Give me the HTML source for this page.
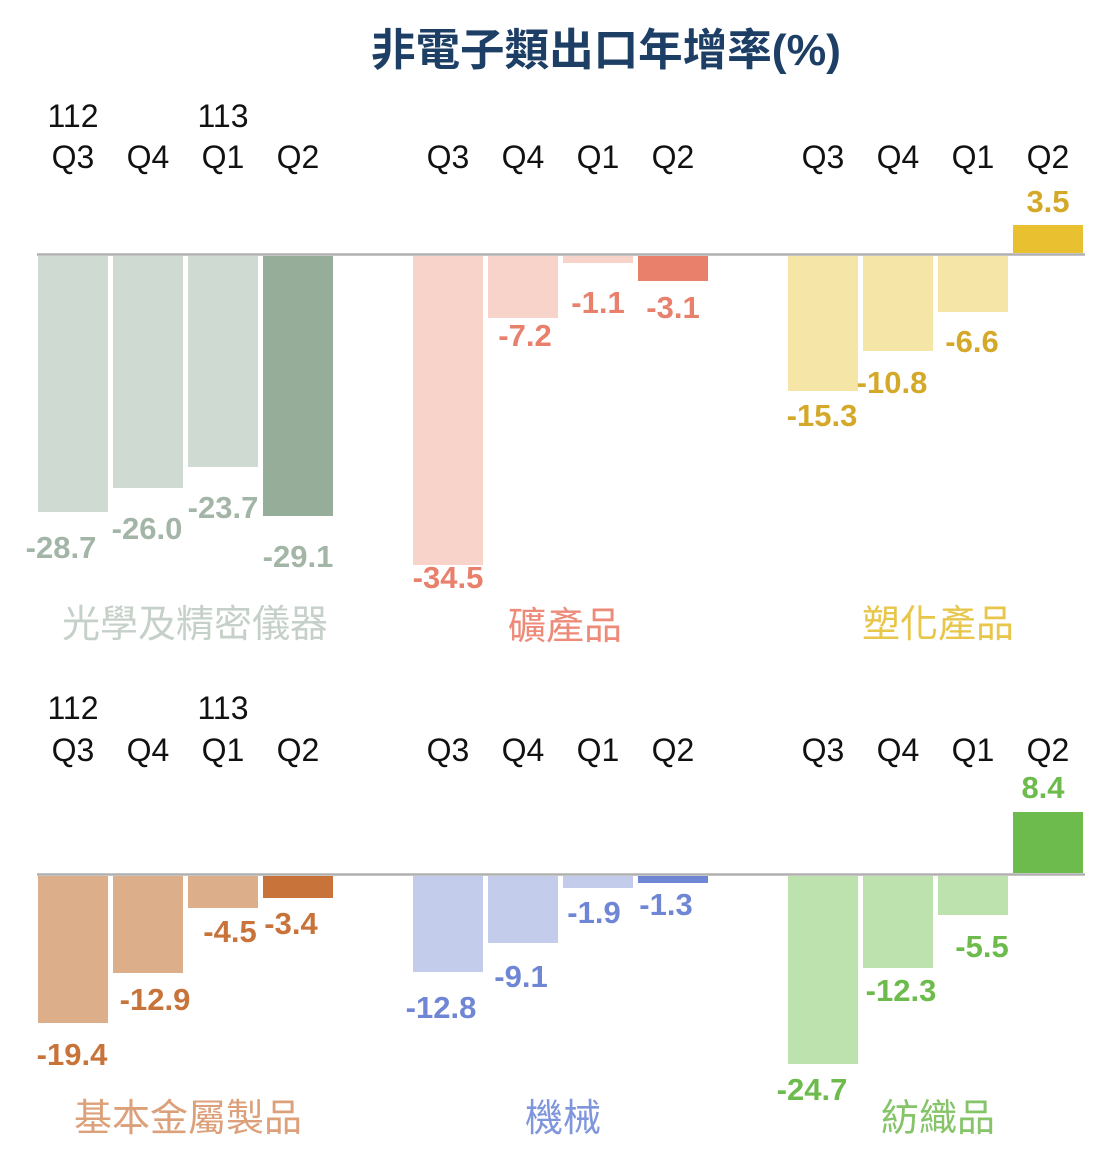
<!DOCTYPE html>
<html><head><meta charset="utf-8"><style>
html,body{margin:0;padding:0;background:#fff;}
svg text{font-family:"Liberation Sans","Noto Sans CJK TC",sans-serif;}
</style></head><body>
<svg width="1105" height="1149" viewBox="0 0 1105 1149" xmlns="http://www.w3.org/2000/svg">
<text x="606" y="65" text-anchor="middle" font-size="44" font-weight="bold" fill="#1d3f66" textLength="470" lengthAdjust="spacingAndGlyphs">非電子類出口年增率(%)</text>

<g font-size="32" fill="#111" text-anchor="middle">
<text x="73" y="127">112</text><text x="223" y="127">113</text>
<text x="73" y="168">Q3</text><text x="148" y="168">Q4</text><text x="223" y="168">Q1</text><text x="298" y="168">Q2</text>
<text x="448" y="168">Q3</text><text x="523" y="168">Q4</text><text x="598" y="168">Q1</text><text x="673" y="168">Q2</text>
<text x="823" y="168">Q3</text><text x="898" y="168">Q4</text><text x="973" y="168">Q1</text><text x="1048" y="168">Q2</text>
<text x="73" y="719">112</text><text x="223" y="719">113</text>
<text x="73" y="761">Q3</text><text x="148" y="761">Q4</text><text x="223" y="761">Q1</text><text x="298" y="761">Q2</text>
<text x="448" y="761">Q3</text><text x="523" y="761">Q4</text><text x="598" y="761">Q1</text><text x="673" y="761">Q2</text>
<text x="823" y="761">Q3</text><text x="898" y="761">Q4</text><text x="973" y="761">Q1</text><text x="1048" y="761">Q2</text>
</g>

<rect x="38" y="256" width="70" height="256" fill="#cfdad2"/>
<rect x="113" y="256" width="70" height="232" fill="#cfdad2"/>
<rect x="188" y="256" width="70" height="211" fill="#cfdad2"/>
<rect x="263" y="256" width="70" height="260" fill="#96ad9a"/>
<rect x="413" y="256" width="70" height="309" fill="#f7d3ca"/>
<rect x="488" y="256" width="70" height="62" fill="#f7d3ca"/>
<rect x="563" y="256" width="70" height="7" fill="#f7d3ca"/>
<rect x="638" y="256" width="70" height="25" fill="#e8806b"/>
<rect x="788" y="256" width="70" height="135" fill="#f5e6a8"/>
<rect x="863" y="256" width="70" height="95" fill="#f5e6a8"/>
<rect x="938" y="256" width="70" height="56" fill="#f5e6a8"/>
<rect x="1013" y="225" width="70" height="28" fill="#e8c030"/>
<line x1="37" y1="254.5" x2="1085" y2="254.5" stroke="#b0b0b0" stroke-width="2.5"/>

<g font-size="31" font-weight="bold" text-anchor="middle">
<text x="61" y="558" fill="#a3b5a7">-28.7</text>
<text x="147" y="539" fill="#a3b5a7">-26.0</text>
<text x="223" y="518" fill="#a3b5a7">-23.7</text>
<text x="298" y="567" fill="#a3b5a7">-29.1</text>
<text x="448" y="588" fill="#e8806b">-34.5</text>
<text x="525" y="346" fill="#e8806b">-7.2</text>
<text x="598" y="313" fill="#e8806b">-1.1</text>
<text x="673" y="318" fill="#e8806b">-3.1</text>
<text x="822" y="426" fill="#d4a92a">-15.3</text>
<text x="892" y="393" fill="#d4a92a">-10.8</text>
<text x="972" y="352" fill="#d4a92a">-6.6</text>
<text x="1048" y="212" fill="#d4a92a">3.5</text>
</g>
<g font-size="38" text-anchor="middle">
<text x="195" y="637" fill="#c5d0c8">光學及精密儀器</text>
<text x="565" y="639" fill="#ee8a78">礦產品</text>
<text x="938" y="637" fill="#e8c64a">塑化產品</text>
</g>

<rect x="38" y="876" width="70" height="147" fill="#dcae8a"/>
<rect x="113" y="876" width="70" height="97" fill="#dcae8a"/>
<rect x="188" y="876" width="70" height="32" fill="#dcae8a"/>
<rect x="263" y="876" width="70" height="22" fill="#c8733a"/>
<rect x="413" y="876" width="70" height="96" fill="#c3cdeb"/>
<rect x="488" y="876" width="70" height="67" fill="#c3cdeb"/>
<rect x="563" y="876" width="70" height="12" fill="#c3cdeb"/>
<rect x="638" y="876" width="70" height="7" fill="#6f86d4"/>
<rect x="788" y="876" width="70" height="188" fill="#bde2ad"/>
<rect x="863" y="876" width="70" height="92" fill="#bde2ad"/>
<rect x="938" y="876" width="70" height="39" fill="#bde2ad"/>
<rect x="1013" y="812" width="70" height="61" fill="#6cbb4c"/>
<line x1="37" y1="874.5" x2="1085" y2="874.5" stroke="#b0b0b0" stroke-width="2.5"/>

<g font-size="31" font-weight="bold" text-anchor="middle">
<text x="72" y="1065" fill="#c8733a">-19.4</text>
<text x="155" y="1010" fill="#c8733a">-12.9</text>
<text x="230" y="942" fill="#c8733a">-4.5</text>
<text x="291" y="934" fill="#c8733a">-3.4</text>
<text x="441" y="1018" fill="#6f86d4">-12.8</text>
<text x="521" y="987" fill="#6f86d4">-9.1</text>
<text x="594" y="923" fill="#6f86d4">-1.9</text>
<text x="666" y="915" fill="#6f86d4">-1.3</text>
<text x="812" y="1100" fill="#6cbb4c">-24.7</text>
<text x="901" y="1001" fill="#6cbb4c">-12.3</text>
<text x="982" y="957" fill="#6cbb4c">-5.5</text>
<text x="1043" y="798" fill="#6cbb4c">8.4</text>
</g>
<g font-size="38" text-anchor="middle">
<text x="188" y="1131" fill="#dca07a">基本金屬製品</text>
<text x="563" y="1131" fill="#7f95dc">機械</text>
<text x="938" y="1131" fill="#86c46a">紡織品</text>
</g>
</svg>
</body></html>
